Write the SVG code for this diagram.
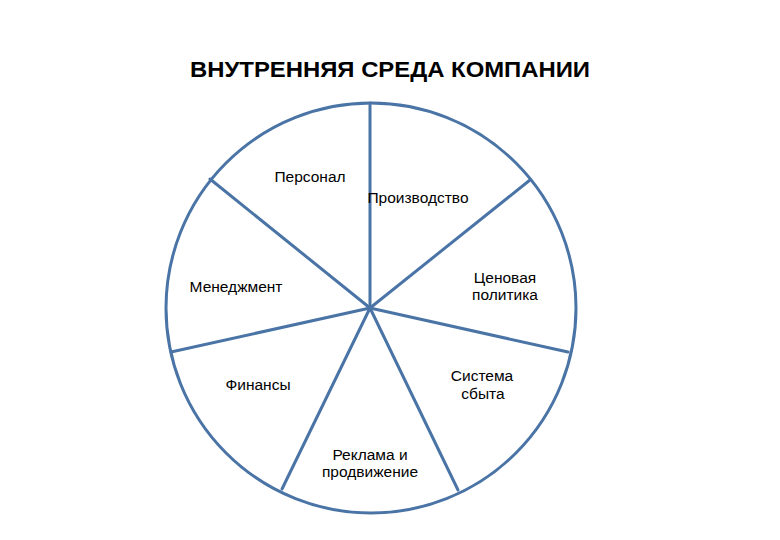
<svg xmlns="http://www.w3.org/2000/svg" width="780" height="540" viewBox="0 0 780 540">
<style>
.t{font-family:"Liberation Sans","Noto Sans",sans-serif;font-size:15.5px;fill:#000;text-anchor:middle}
.title{font-family:"Liberation Sans","Noto Sans",sans-serif;font-size:22px;font-weight:bold;fill:#000;text-anchor:middle}
.ln{stroke:#4a74a6;stroke-width:3;fill:none;stroke-linecap:round}
</style>
<rect width="780" height="540" fill="#fff"/>
<text class="title" x="390" y="77" textLength="400" lengthAdjust="spacingAndGlyphs">ВНУТРЕННЯЯ СРЕДА КОМПАНИИ</text>
<g id="circle"><circle class="ln" cx="371" cy="308" r="205"/></g>
<g id="connectors">
<line class="ln" x1="370" y1="308" x2="370" y2="103"/>
<line class="ln" x1="370" y1="308" x2="530" y2="180"/>
<line class="ln" x1="370" y1="308" x2="568" y2="352"/>
<line class="ln" x1="370" y1="308" x2="458" y2="490"/>
<line class="ln" x1="370" y1="308" x2="282" y2="489"/>
<line class="ln" x1="370" y1="308" x2="171" y2="352"/>
<line class="ln" x1="370" y1="308" x2="210" y2="179"/>
</g>
<g id="personal"><text class="t" x="310" y="182">Персонал</text></g>
<g id="production"><text class="t" x="418" y="203">Производство</text></g>
<g id="management"><text class="t" x="236" y="292">Менеджмент</text></g>
<g id="price"><text class="t" x="505" y="283">Ценовая</text><text class="t" x="505" y="300">политика</text></g>
<g id="finance"><text class="t" x="258" y="390">Финансы</text></g>
<g id="sales"><text class="t" x="482" y="381">Система</text><text class="t" x="483" y="399">сбыта</text></g>
<g id="ads"><text class="t" x="370" y="460">Реклама и</text><text class="t" x="370" y="477">продвижение</text></g>
</svg>
